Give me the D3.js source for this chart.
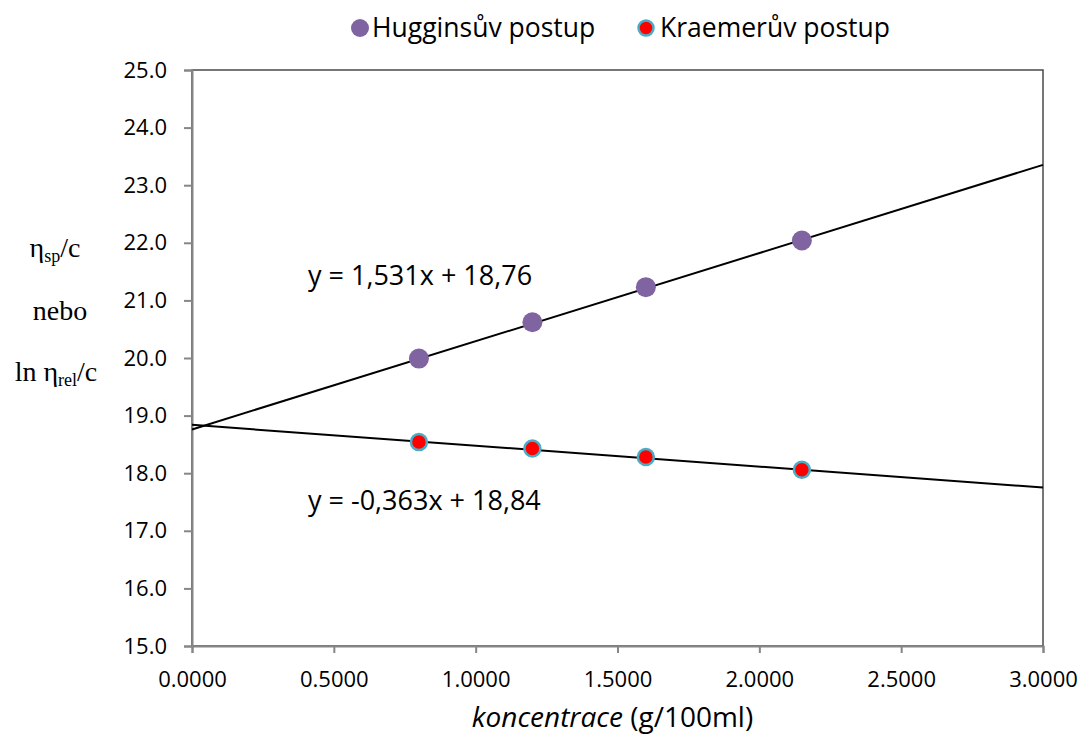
<!DOCTYPE html>
<html>
<head>
<meta charset="utf-8">
<script src="https://cdn.jsdelivr.net/npm/d3@7"></script>
<style>
  body { margin: 0; background: #fff; }
  svg { display: block; }
</style>
</head>
<body>
<div id="chart"></div>
<script>
// data
var concentrations = [0.8, 1.2, 1.6, 2.15];
var hugginsValues = [19.99, 20.62, 21.23, 22.04];
var kraemerValues = [18.54, 18.43, 18.28, 18.06];
// trendline coefficients as printed on the chart [slope, intercept]
var hugginsFit = [1.531, 18.76];
var kraemerFit = [-0.363, 18.84];
var xTicks = [0, 0.5, 1, 1.5, 2, 2.5, 3];
var yTicks = [15, 16, 17, 18, 19, 20, 21, 22, 23, 24, 25];
var seriesNames = ["Hugginsův postup", "Kraemerův postup"];
var equationLabels = ["y = 1,531x + 18,76", "y = -0,363x + 18,84"];

var W = 1083, H = 745;
var margin = {top: 70, right: 40, bottom: 99, left: 192},
    width = W - margin.left - margin.right,
    height = H - margin.top - margin.bottom;

var sansFont = "'Open Sans', sans-serif";
var serifFont = "'Liberation Serif', 'DejaVu Serif', serif";

var svg = d3.select("#chart").append("svg")
    .attr("width", W)
    .attr("height", H);

var g = svg.append("g")
    .attr("transform", "translate(" + margin.left + "," + margin.top + ")");

var x = d3.scaleLinear().domain([0, 3]).range([0, width]);
var y = d3.scaleLinear().domain([15, 25]).range([height, 0]);

// plot area border (top / right)
g.append("rect")
    .attr("x", 0).attr("y", 0)
    .attr("width", width).attr("height", height)
    .style("fill", "none")
    .style("stroke", "#4a4a4a")
    .style("stroke-width", 1.5);

// x axis
var xAxis = g.append("g")
    .attr("transform", "translate(0," + height + ")")
    .call(d3.axisBottom(x).tickValues(xTicks).tickSizeOuter(0).tickSize(7).tickPadding(17)
      .tickFormat(d3.format(".4f")));

// y axis
var yAxis = g.append("g")
    .call(d3.axisLeft(y).tickValues(yTicks).tickSizeOuter(0).tickSize(8).tickPadding(17)
      .tickFormat(d3.format(".1f")));

[xAxis, yAxis].forEach(function(ax) {
  ax.select(".domain").style("stroke", "#868686").style("stroke-width", 2);
  ax.selectAll(".tick line").style("stroke", "#868686").style("stroke-width", 2);
  ax.selectAll(".tick text")
    .style("font-family", sansFont)
    .style("font-size", "22px")
    .style("fill", "#000");
});
xAxis.selectAll(".tick text").attr("dy", "0.75em");

// trendlines across the whole x range
function fitLine(coef) {
  return x.domain().map(function(v) { return [v, coef[0] * v + coef[1]]; });
}
var line = d3.line()
    .x(function(d) { return x(d[0]); })
    .y(function(d) { return y(d[1]); });

[hugginsFit, kraemerFit].forEach(function(coef) {
  g.append("path")
    .datum(fitLine(coef))
    .attr("d", line)
    .style("fill", "none")
    .style("stroke", "#000")
    .style("stroke-width", 2);
});

// markers
g.selectAll(".huggins")
    .data(concentrations)
  .enter().append("circle")
    .attr("class", "huggins")
    .attr("cx", function(d) { return x(d); })
    .attr("cy", function(d, i) { return y(hugginsValues[i]); })
    .attr("r", 10)
    .style("fill", "#8064a2");

g.selectAll(".kraemer")
    .data(concentrations)
  .enter().append("circle")
    .attr("class", "kraemer")
    .attr("cx", function(d) { return x(d); })
    .attr("cy", function(d, i) { return y(kraemerValues[i]); })
    .attr("r", 8)
    .style("fill", "#ff0000")
    .style("stroke", "#4bacc6")
    .style("stroke-width", 2.5);

// trendline equations
g.append("text")
    .attr("x", 116).attr("y", 215)
    .style("font-family", sansFont).style("font-size", "27px")
    .text(equationLabels[0]);
g.append("text")
    .attr("x", 116).attr("y", 440)
    .style("font-family", sansFont).style("font-size", "27px")
    .text(equationLabels[1]);

// legend
var legend = svg.append("g");
legend.append("circle").attr("cx", 360).attr("cy", 28).attr("r", 9)
    .style("fill", "#8064a2");
legend.append("text").attr("x", 372).attr("y", 37)
    .style("font-family", sansFont).style("font-size", "26.5px")
    .text(seriesNames[0]);
legend.append("circle").attr("cx", 646).attr("cy", 28).attr("r", 7.5)
    .style("fill", "#ff0000").style("stroke", "#4bacc6").style("stroke-width", 2.5);
legend.append("text").attr("x", 660).attr("y", 37)
    .style("font-family", sansFont).style("font-size", "26.5px")
    .text(seriesNames[1]);

// x axis title
var xTitle = svg.append("text")
    .attr("x", margin.left + width / 2 - 5)
    .attr("y", 727)
    .style("text-anchor", "middle")
    .style("font-family", sansFont)
    .style("font-size", "28px");
xTitle.append("tspan").style("font-style", "italic").text("koncentrace");
xTitle.append("tspan").text(" (g/100ml)");

// y axis title (three lines, serif)
var yTitle = svg.append("g")
    .style("font-family", serifFont)
    .style("font-size", "28px")
    .style("text-anchor", "middle");
var t1 = yTitle.append("text").attr("x", 55).attr("y", 257);
t1.append("tspan").text("η");
t1.append("tspan").attr("dy", 5).style("font-size", "18px").text("sp");
t1.append("tspan").attr("dy", -5).text("/c");
yTitle.append("text").attr("x", 60).attr("y", 320).text("nebo");
var t3 = yTitle.append("text").attr("x", 56).attr("y", 381);
t3.append("tspan").text("ln η");
t3.append("tspan").attr("dy", 5).style("font-size", "18px").text("rel");
t3.append("tspan").attr("dy", -5).text("/c");
</script>
</body>
</html>
